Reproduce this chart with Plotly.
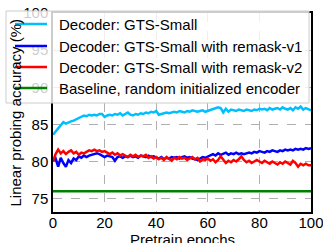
import plotly.graph_objects as go

epochs = list(range(0, 101))

gts_small = [83.6, 84.0, 84.5, 84.9, 85.3, 85.1, 85.3, 85.4, 85.5, 85.7,
             85.8, 86.1, 86.2, 86.1, 86.3, 86.2, 86.3, 86.2, 86.4, 86.4,
             86.0, 86.2, 86.3, 86.2, 86.4, 86.3, 86.5, 86.2, 86.4, 86.6,
             86.3, 86.2, 86.4, 86.3, 86.5, 86.4, 86.6, 86.5, 86.7, 86.6,
             86.8, 86.3, 86.4, 86.5, 86.6, 86.5, 86.6, 86.7, 86.6, 86.8,
             86.7, 86.6, 86.8, 86.7, 86.9, 86.8, 86.7, 86.8, 86.9, 86.7,
             86.8, 86.9, 87.0, 87.1, 87.3, 87.2, 86.6, 87.1, 86.7, 87.0,
             86.9, 86.8, 87.0, 86.9, 86.8, 87.0, 86.9, 86.8, 87.0, 86.9,
             87.1, 87.0, 87.1, 86.9, 87.2, 87.0, 87.1, 87.2, 87.0, 87.3,
             87.1, 87.0, 87.2, 86.9, 87.3, 87.1, 87.4, 87.0, 87.2, 87.0,
             86.9]

remask_v1 = [80.1, 80.4, 79.3, 80.5, 79.8, 79.3, 80.2, 79.8, 80.4, 80.2,
             80.7, 80.5, 80.8, 80.6, 80.8, 80.9, 81.0, 81.1, 81.0, 80.8,
             80.6, 80.8, 80.7, 80.6, 80.1, 80.6, 80.7, 80.5, 80.7, 80.6,
             80.8, 80.6, 80.7, 80.5, 80.8, 80.7, 80.6, 80.8, 80.6, 80.7,
             80.5, 80.4, 80.6, 80.3, 80.5, 80.4, 80.6, 80.5, 80.6, 80.4,
             80.6, 80.7, 80.5, 80.6, 80.4, 80.3, 80.2, 80.4, 80.6, 80.5,
             80.7, 80.9, 81.0, 80.8, 81.1, 80.9, 81.0, 81.2, 80.9, 81.1,
             81.0, 81.2, 81.0, 81.1, 81.0, 81.1, 81.2, 81.1, 81.3, 81.2,
             81.4, 81.3, 81.2, 81.4, 81.3, 81.5, 81.4, 81.3, 81.5, 81.4,
             81.6, 81.5, 81.6, 81.5, 81.7, 81.6, 81.7, 81.6, 81.8, 81.7,
             81.8]

remask_v2 = [80.0, 81.0, 81.6, 81.1, 81.4, 81.0, 81.3, 81.5, 81.1, 81.3,
             80.9, 81.2, 81.1, 81.3, 81.5, 81.4, 81.6, 81.4, 81.5, 81.3,
             81.4, 81.2, 81.0, 81.2, 80.9, 81.1, 80.8, 81.0, 80.8, 80.6,
             80.9, 80.7, 80.9, 80.6, 80.8, 80.7, 80.9, 80.5, 80.7, 80.4,
             80.6, 80.3, 80.5, 80.2, 80.6, 80.4, 80.1, 80.5, 80.3, 80.6,
             80.4, 80.5, 80.2, 80.4, 80.6, 80.3, 80.5, 80.0, 80.3, 80.2,
             80.4, 80.1, 80.3, 79.9, 80.2, 80.7, 80.3, 79.8, 80.1, 79.9,
             80.2, 80.0, 80.3, 80.7, 80.2, 79.9, 80.1, 79.8, 80.0, 80.2,
             80.0, 79.8, 80.1, 79.9, 79.7, 80.0, 79.8, 79.6, 79.9, 79.7,
             80.0, 79.8, 79.6, 80.1, 79.8, 79.3, 79.7, 79.5, 79.7, 79.5,
             79.5]

baseline_x = [0, 100]
baseline_y = [76.0, 76.0]

series_names = ["Decoder: GTS-Small",
                "Decoder: GTS-Small with remask-v1",
                "Decoder: GTS-Small with remask-v2",
                "Baseline, random initialized encoder"]
series_colors = ["#00BFFF", "#0000FF", "#FF0000", "#008000"]

x_ticks = [0, 20, 40, 60, 80, 100]
y_ticks = [75, 80, 85, 90, 95, 100]

x_title = "Pretrain epochs"
y_title = "Linear probing accuracy (%)"

series_x = [epochs, epochs, epochs, baseline_x]
series_y = [gts_small, remask_v1, remask_v2, baseline_y]

fig = go.Figure()
for xs, ys, nm, col in zip(series_x, series_y, series_names, series_colors):
    fig.add_trace(go.Scatter(x=xs, y=ys, mode="lines", name=nm,
                             line=dict(color=col, width=2.5),
                             showlegend=False))

# plot area in pixels: left 53, right 311, top 13, bottom 212
PL, PR, PT, PB = 53, 311, 13, 212


def px_x(p):
    return (p - PL) / (PR - PL)


def px_y(p):
    return (PB - p) / (PB - PT)


shapes = [dict(type="rect", xref="paper", yref="paper", layer="above",
               x0=px_x(6), x1=px_x(309), y0=px_y(103), y1=px_y(11),
               fillcolor="rgba(255,255,255,0.8)",
               line=dict(color="#cccccc", width=1))]
annotations = []
row_centers = [24, 46, 67, 88]
for nm, col, cy in zip(series_names, series_colors, row_centers):
    shapes.append(dict(type="line", xref="paper", yref="paper", layer="above",
                       x0=px_x(15), x1=px_x(47), y0=px_y(cy), y1=px_y(cy),
                       line=dict(color=col, width=2.5)))
    annotations.append(dict(text=nm, xref="paper", yref="paper",
                            x=px_x(57), y=px_y(cy), xanchor="left",
                            yanchor="middle", showarrow=False,
                            font=dict(size=15)))

annotations.append(dict(text=x_title, xref="paper", yref="paper", x=0.5, y=0,
                        xanchor="center", yanchor="middle", yshift=-27,
                        showarrow=False, font=dict(size=15)))
annotations.append(dict(text=y_title, xref="paper", yref="paper", x=0, y=0.5,
                        xanchor="center", yanchor="middle", xshift=-38,
                        textangle=-90, showarrow=False, font=dict(size=15)))

font = "Liberation Sans, Arial, sans-serif"
fig.update_layout(
    width=323, height=243,
    margin=dict(l=PL, r=323 - PR, t=PT, b=243 - PB, autoexpand=False),
    paper_bgcolor="white", plot_bgcolor="white",
    font=dict(family=font, size=15, color="black"),
    showlegend=False,
    shapes=shapes,
    annotations=annotations,
)
fig.update_xaxes(range=[0, 100], tickvals=x_ticks, showline=True,
                 linecolor="black", linewidth=1.5, mirror=True,
                 showgrid=True, gridcolor="#b0b0b0", griddash="dash",
                 gridwidth=1, zeroline=False, ticks="",
                 ticklabeloverflow="allow", ticklabelstandoff=-4,
                 automargin=False, tickfont=dict(size=15))
fig.update_yaxes(range=[73.2, 100], tickvals=y_ticks, showline=True,
                 linecolor="black", linewidth=1.5, mirror=True,
                 showgrid=True, gridcolor="#b0b0b0", griddash="dash",
                 gridwidth=1, zeroline=False, ticks="",
                 ticklabeloverflow="allow",
                 automargin=False, tickfont=dict(size=15))

fig.write_html("out.html", config={"displayModeBar": False},
               post_script="document.body.style.margin='0';document.body.style.overflow='hidden';")
